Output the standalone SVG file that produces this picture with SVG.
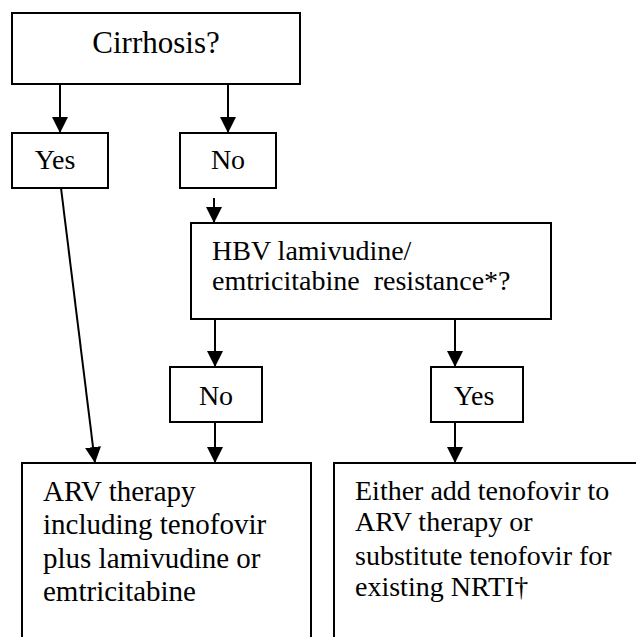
<svg xmlns="http://www.w3.org/2000/svg" width="636" height="637" viewBox="0 0 636 637">
<style>
.box{fill:#fff;stroke:#000;stroke-width:2}
.t{font-family:"Liberation Serif","Times New Roman",serif;fill:#000;font-size:28px}
.c{stroke:#000;stroke-width:2;fill:none;marker-end:url(#ah)}
</style>
<defs>
<marker id="ah" viewBox="0 0 16 16" refX="16" refY="8" markerWidth="16" markerHeight="16" markerUnits="userSpaceOnUse" orient="auto">
<path d="M0,0 L16,8 L0,16 z" fill="#000"/>
</marker>
</defs>
<rect width="636" height="637" fill="#fff"/>
<g id="cirrhosis">
<rect class="box" x="12" y="13" width="288" height="71"/>
<text class="t" x="156" y="53" text-anchor="middle" style="font-size:31px">Cirrhosis?</text>
</g>
<g id="yes1">
<rect class="box" x="12" y="133" width="96" height="55"/>
<text class="t" x="55" y="169" text-anchor="middle">Yes</text>
</g>
<g id="no1">
<rect class="box" x="180" y="133" width="96" height="55"/>
<text class="t" x="228" y="169" text-anchor="middle">No</text>
</g>
<g id="hbv">
<rect class="box" x="191" y="223" width="360" height="96"/>
<text class="t" x="212" y="260">HBV lamivudine/</text>
<text class="t" x="212" y="290">emtricitabine &#160;resistance*?</text>
</g>
<g id="no2">
<rect class="box" x="170" y="367" width="92" height="55"/>
<text class="t" x="216" y="405" text-anchor="middle">No</text>
</g>
<g id="yes2">
<rect class="box" x="431" y="367" width="92" height="55"/>
<text class="t" x="474" y="405" text-anchor="middle">Yes</text>
</g>
<g id="arv">
<rect class="box" x="22" y="463" width="289" height="200"/>
<text class="t" x="43" y="501" style="font-size:29px">ARV therapy</text>
<text class="t" x="43" y="534" style="font-size:29px">including tenofovir</text>
<text class="t" x="43" y="568" style="font-size:29px">plus lamivudine or</text>
<text class="t" x="43" y="601" style="font-size:29px">emtricitabine</text>
</g>
<g id="either">
<rect class="box" x="334" y="463" width="320" height="200"/>
<text class="t" x="355" y="500">Either add tenofovir to</text>
<text class="t" x="355" y="531">ARV therapy or</text>
<text class="t" x="355" y="565">substitute tenofovir for</text>
<text class="t" x="355" y="596">existing NRTI†</text>
</g>
<g id="connectors">
<line class="c" x1="60" y1="84" x2="60" y2="133"/>
<line class="c" x1="228" y1="84" x2="228" y2="133"/>
<line class="c" x1="214" y1="198" x2="214" y2="223"/>
<line class="c" x1="61" y1="188" x2="95" y2="463"/>
<line class="c" x1="215" y1="319" x2="215" y2="367"/>
<line class="c" x1="455" y1="319" x2="455" y2="367"/>
<line class="c" x1="215" y1="422" x2="215" y2="463"/>
<line class="c" x1="455" y1="422" x2="455" y2="463"/>
</g>
</svg>
